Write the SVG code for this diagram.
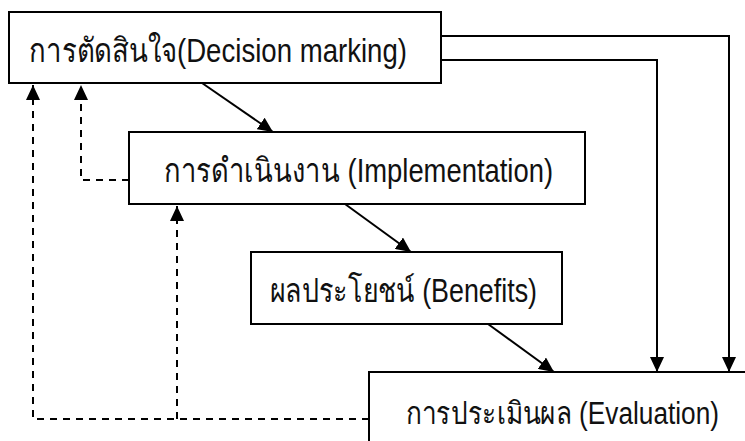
<svg xmlns="http://www.w3.org/2000/svg" width="745" height="441" viewBox="0 0 745 441">
<defs>
<style>
.box{fill:#fff;stroke:#000;stroke-width:2}
.lbl{font-family:"Liberation Sans","Noto Sans",sans-serif;font-size:33px;fill:#111}
.solid{fill:none;stroke:#000;stroke-width:2}
.dash{fill:none;stroke:#000;stroke-width:2;stroke-dasharray:7,6}
</style>
<marker id="ah" viewBox="0 0 15 14" refX="15" refY="7" markerWidth="15" markerHeight="14" markerUnits="userSpaceOnUse" orient="auto">
<path d="M0,0 L15,7 L0,14 Z" fill="#000"/>
</marker>
</defs>
<rect width="745" height="441" fill="#fff"/>
<g id="connectors">
<path class="solid" d="M441,36 H729 V372" marker-end="url(#ah)"/>
<path class="solid" d="M441,60 H657 V372" marker-end="url(#ah)"/>
<path class="solid" d="M202,83 L273,132" marker-end="url(#ah)"/>
<path class="solid" d="M345,204 L411,252" marker-end="url(#ah)"/>
<path class="solid" d="M488,324 L554,372" marker-end="url(#ah)"/>
<path class="dash" d="M369,419 H33 V85" marker-end="url(#ah)"/>
<path class="dash" d="M129,180 H81 V85" marker-end="url(#ah)"/>
<path class="dash" d="M177,419 V206" marker-end="url(#ah)"/>
</g>
<g id="decision">
<rect class="box" x="9" y="12" width="432" height="71"/>
<text class="lbl" x="29" y="62" textLength="378" lengthAdjust="spacingAndGlyphs">การตัดสินใจ(Decision marking)</text>
</g>
<g id="implementation">
<rect class="box" x="129" y="132" width="456" height="72"/>
<text class="lbl" x="164" y="182" textLength="389" lengthAdjust="spacingAndGlyphs">การดำเนินงาน (Implementation)</text>
</g>
<g id="benefits">
<rect class="box" x="251" y="252" width="311" height="72"/>
<text class="lbl" x="270" y="302" textLength="267" lengthAdjust="spacingAndGlyphs">ผลประโยชน์ (Benefits)</text>
</g>
<g id="evaluation">
<path d="M369,441 V372 H745" fill="none" stroke="#000" stroke-width="2"/>
<text class="lbl" x="406" y="424" style="font-size:31px" textLength="313" lengthAdjust="spacingAndGlyphs">การประเมินผล (Evaluation)</text>
</g>
</svg>
